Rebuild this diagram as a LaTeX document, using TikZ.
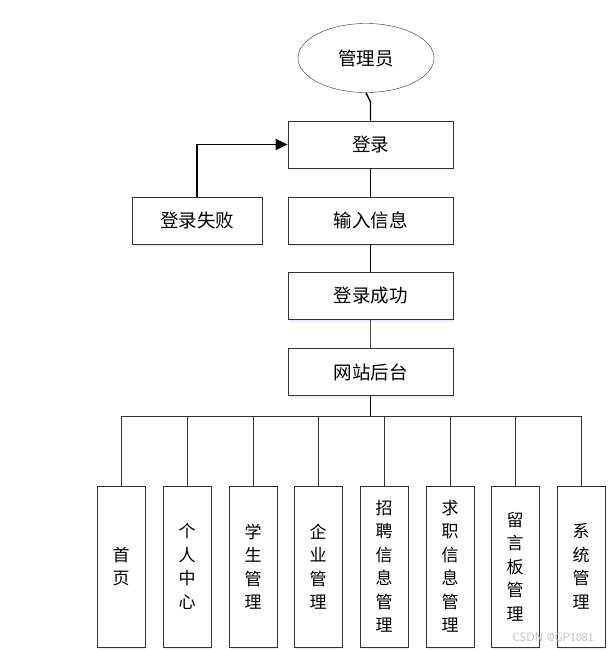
\documentclass[tikz,border=0pt]{standalone}
\usepackage{fontspec}
\newfontfamily\cjk{Noto Sans CJK SC}
\usetikzlibrary{arrows,arrows.meta,shapes,positioning,shadows,calc}

\begin{document}
\begin{tikzpicture}[x=1pt,y=-1pt,
  box/.style={draw=black!80, rectangle, fill=white, minimum width=165pt, minimum height=47pt, line width=0.8pt,
    font=\cjk\fontsize{18.5}{20}\selectfont, drop shadow={shadow xshift=1pt, shadow yshift=-2pt, fill=blue!8, opacity=1}},
  sub/.style={draw=black!80, rectangle, fill=white, minimum width=48pt, minimum height=161pt, line width=0.8pt, align=center,
    font=\cjk\fontsize{17}{23.5}\selectfont, drop shadow={shadow xshift=1pt, shadow yshift=-2pt, fill=blue!8, opacity=1}}]
\useasboundingbox (0,0) rectangle (612,651);

% Start
\node[draw=black!80, ellipse, minimum width=136pt, minimum height=69pt, font=\cjk\fontsize{18.5}{20}\selectfont] (admin) at (366,58) {管理员};

% Login steps
\node[box] (login) at (370.5,144.5) {登录};
\node[box] (input) at (370.5,220.5) {输入信息};
\node[box, minimum width=130pt] (fail) at (197,220.5) {登录失败};
\node[box] (success) at (370.5,296) {登录成功};
\node[box] (site) at (370.5,372) {网站后台};

% Modules
\node[sub] (home) at (121,566.5) {首\\页};
\node[sub] (personal) at (187,566.5) {个\\人\\中\\心};
\node[sub] (student) at (253,566.5) {学\\生\\管\\理};
\node[sub] (company) at (318,566.5) {企\\业\\管\\理};
\node[sub] (recruit) at (384,566.5) {招\\聘\\信\\息\\管\\理};
\node[sub] (jobseek) at (450,566.5) {求\\职\\信\\息\\管\\理};
\node[sub] (board) at (515,566.5) {留\\言\\板\\管\\理};
\node[sub] (system) at (581,566.5) {系\\统\\管\\理};

\node[text=black!25, font=\sffamily\fontsize{12}{14}\selectfont] (mark) at (553,637) {CSDN @GP1081};

% Flows
\coordinate (bend) at (370.5,102);
\coordinate (bus) at (370.5,416);
\draw[line width=1.4pt] (admin.south) -- (bend) -- (login.north);
\draw[line width=1.4pt] (login) -- (input);
\draw[line width=1.4pt] (input) -- (success);
\draw[line width=0.8pt, black!70] (success) -- (site);
\draw[line width=1.8pt, -{Triangle[length=12pt,width=11pt]}] (fail.north) |- (login.west);
\draw[line width=1.6pt] (site.south) -- (bus);

\draw[line width=0.8pt, black!80] (bus) -| (home.north);
\draw[line width=0.8pt, black!80] (bus) -| (personal.north);
\draw[line width=0.8pt, black!80] (bus) -| (student.north);
\draw[line width=0.8pt, black!80] (bus) -| (company.north);
\draw[line width=0.8pt, black!80] (bus) -| (recruit.north);
\draw[line width=0.8pt, black!80] (bus) -| (jobseek.north);
\draw[line width=0.8pt, black!80] (bus) -| (board.north);
\draw[line width=0.8pt, black!80] (bus) -| (system.north);

\end{tikzpicture}
\end{document}
